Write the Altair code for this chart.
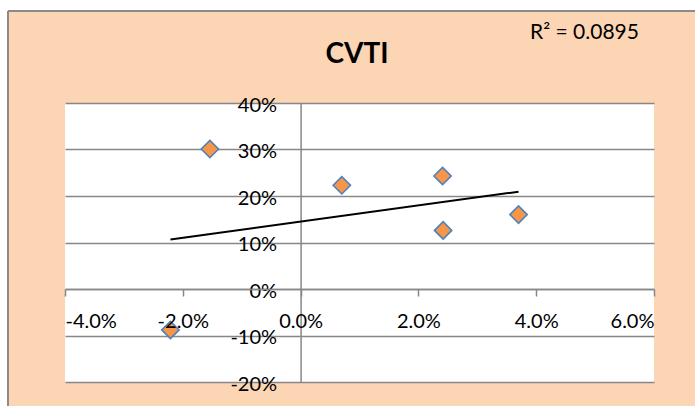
import altair as alt
import pandas as pd

# Data (percent units)
x_vals = [-1.54, 0.70, 2.41, 2.42, 3.70, -2.21]
y_vals = [30.1, 22.3, 24.3, 12.6, 16.0, -8.8]
x_ticks = [-4, -2, 0, 2, 4, 6]
y_ticks = [-20, -10, 0, 10, 20, 30, 40]
title_text = "CVTI"
r2_text = "R² = 0.0895"

df = pd.DataFrame({"x": x_vals, "y": y_vals})

W, H = 589, 279
PAD_L, PAD_T = 65, 103
FONT = "Lato"
GREY = "#878787"

xscale = alt.Scale(domain=[-4, 6], nice=False, zero=False)
yscale = alt.Scale(domain=[-20, 40], nice=False, zero=False)

x0_px = (0 - (-4)) / 10 * W
y0_px = (40 - 0) / 60 * H

base = alt.Chart(df)

points = base.mark_point(
    shape="diamond", filled=True, size=300, fill="#F79646",
    stroke="#4F81BD", strokeWidth=1.6, opacity=1
).encode(
    x=alt.X("x:Q", scale=xscale, axis=alt.Axis(
        values=x_ticks, orient="bottom", offset=-(H - y0_px),
        labelExpr="replace(format(datum.value/100, '.1%'), '\u2212', '-')",
        grid=False, domainColor=GREY, domainWidth=1.5, tickColor=GREY,
        tickWidth=1.5, tickSize=7, labelFont=FONT, labelFontSize=20,
        labelColor="black", labelPadding=15, title=None, zindex=1)),
    y=alt.Y("y:Q", scale=yscale, axis=alt.Axis(
        values=y_ticks, orient="left", offset=-x0_px,
        labelExpr="replace(format(datum.value/100, '.0%'), '\u2212', '-')",
        grid=True, gridColor=GREY, gridWidth=1.5, domainColor=GREY,
        domainWidth=1.5, ticks=False, labelFont=FONT, labelFontSize=20,
        labelColor="black", labelPadding=24, labelBaseline="middle",
        labelOffset=2, title=None, zindex=0)),
)

trend = base.transform_regression("x", "y").mark_line(
    color="black", strokeWidth=2
).encode(x=alt.X("x:Q", scale=xscale), y=alt.Y("y:Q", scale=yscale))

one = alt.Data(values=[{"a": 1}])

top_strip = alt.Chart(one).mark_rect(color="white").encode(
    x=alt.value(-PAD_L), x2=alt.value(W + 60),
    y=alt.value(-PAD_T), y2=alt.value(-PAD_T + 11))
left_strip = alt.Chart(one).mark_rect(color="white").encode(
    x=alt.value(-PAD_L), x2=alt.value(-PAD_L + 8),
    y=alt.value(-PAD_T), y2=alt.value(H + 40))
top_border = alt.Chart(one).mark_rule(color="#8a8a8a", strokeWidth=2).encode(
    x=alt.value(-PAD_L + 8), x2=alt.value(W + 60), y=alt.value(-PAD_T + 11))
left_border = alt.Chart(one).mark_rule(color="#8a8a8a", strokeWidth=2).encode(
    x=alt.value(-PAD_L + 8), y=alt.value(-PAD_T + 11), y2=alt.value(H + 40))

title = alt.Chart(one).mark_text(
    text=title_text, font=FONT, fontSize=28, fontWeight="bold",
    color="black", align="center", baseline="alphabetic"
).encode(x=alt.value(357 - PAD_L), y=alt.value(63 - PAD_T))

r2 = alt.Chart(one).mark_text(
    text=r2_text, font=FONT, fontSize=21, color="black",
    align="left", baseline="alphabetic"
).encode(x=alt.value(530 - PAD_L), y=alt.value(39 - PAD_T))

chart = alt.layer(
    top_strip, left_strip, top_border, left_border, trend, points, title, r2
).properties(
    width=W, height=H,
    background="#FCD5B4",
    padding={"left": PAD_L, "top": PAD_T, "right": 695 - PAD_L - W, "bottom": 406 - PAD_T - H},
    autosize=alt.AutoSizeParams(type="none"),
).configure_view(fill="white", stroke=None)

chart.save("out.html", embed_options={"renderer": "svg", "actions": False})
